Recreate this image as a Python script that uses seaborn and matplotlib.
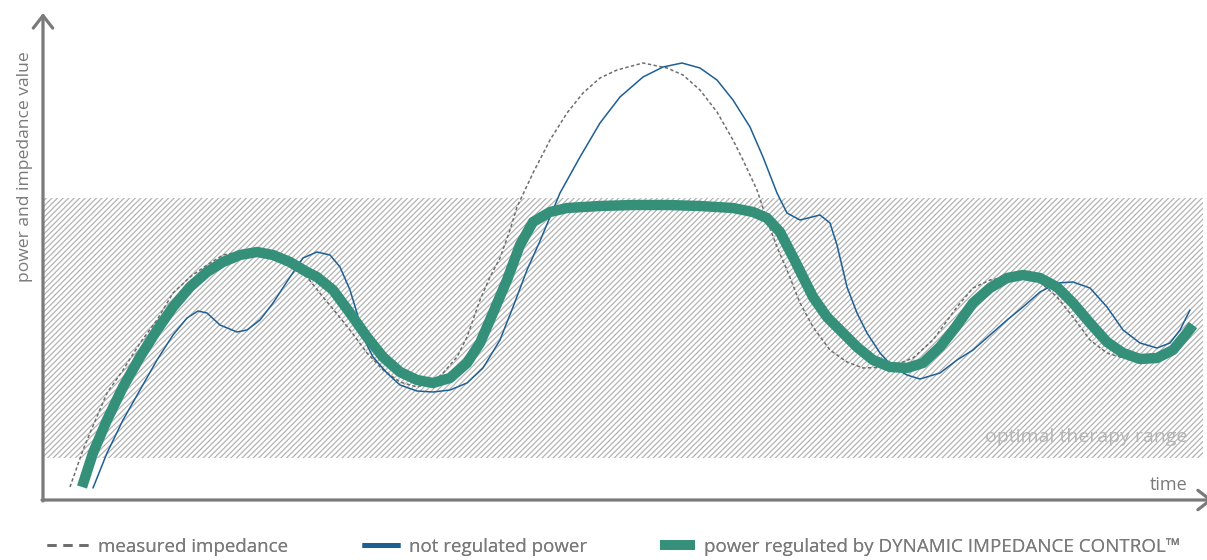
import matplotlib
matplotlib.use("Agg")
import matplotlib.pyplot as plt
from matplotlib.lines import Line2D
from matplotlib.patches import Rectangle
import pandas as pd
import seaborn as sns

# values (time, value)
imp_t = [70, 77, 83, 90, 107, 123, 140, 157, 173, 190, 207, 223, 240, 257, 273, 290, 307, 323,
         333, 350, 367, 383, 400, 417, 433, 443, 457, 467, 480, 490, 500, 510, 517, 533, 550,
         567, 583, 600, 617, 643, 667, 683, 700, 717, 733, 743, 757, 767, 777, 787, 800, 813,
         830, 847, 863, 890, 913, 933, 957, 973, 990, 1007, 1023, 1040, 1057, 1073, 1090,
         1107, 1123, 1147, 1167, 1180, 1185]
imp_v = [13, 33, 50, 67, 107, 130, 157, 180, 207, 223, 235, 245, 248, 248, 243, 233, 223, 203,
         191, 170, 147, 130, 118, 113, 118, 127, 143, 163, 200, 223, 242, 270, 293, 327, 360,
         387, 407, 422, 430, 437, 432, 425, 410, 388, 360, 340, 310, 280, 253, 230, 197, 173,
         150, 138, 132, 133, 142, 160, 193, 212, 220, 223, 224, 218, 203, 183, 160,
         147, 142, 140, 147, 163, 170]

raw_t = [93, 107, 123, 140, 157, 173, 187, 198, 207, 220, 237, 247, 260, 273, 290, 303, 317, 330,
         340, 350, 357, 363, 373, 387, 400, 417, 433, 450, 467, 483, 500, 513, 527, 540, 550,
         560, 580, 600, 620, 643, 663, 682, 700, 717, 733, 750, 763, 777, 787, 800, 820, 830,
         837, 847, 857, 867, 880, 893, 907, 920, 940, 957, 973, 990, 1007, 1023, 1040, 1057,
         1073, 1090, 1107, 1123, 1140, 1157, 1170, 1180, 1190]
raw_v = [12, 47, 80, 110, 140, 165, 182, 189, 187, 175, 168, 170, 180, 197, 223, 242, 248, 245,
         233, 210, 187, 163, 143, 127, 115, 109, 108, 110, 117, 132, 160, 193, 230, 259, 283,
         307, 343, 377, 403, 423, 433, 437, 432, 420, 400, 373, 343, 307, 287, 280, 285, 277,
         255, 213, 187, 167, 147, 133, 125, 121, 127, 140, 150, 165, 180, 193, 208, 217,
         218, 212, 193, 170, 157, 152, 157, 170, 190]

reg_t = [82, 93, 107, 123, 140, 157, 173, 190, 207, 223, 240, 257, 273, 290, 307, 317, 333, 350,
         367, 383, 400, 417, 433, 450, 467, 480, 493, 507, 520, 533, 550, 567, 600, 633, 667,
         700, 733, 753, 767, 780, 793, 803, 813, 827, 840, 857, 873, 890, 907, 923, 940, 955,
         973, 990, 1007, 1023, 1040, 1057, 1073, 1090, 1107, 1123, 1140, 1157, 1173, 1187, 1193]
reg_v = [13, 47, 80, 113, 143, 170, 193, 213, 228, 238, 245, 248, 245, 238, 228, 223, 210, 187,
         163, 143, 128, 120, 117, 122, 137, 157, 187, 220, 255, 278, 288, 292, 294, 295, 295,
         294, 292, 288, 282, 268, 243, 223, 203, 183, 170, 153, 140, 133, 132, 137, 153, 172,
         197, 212, 222, 225, 222, 213, 197, 177, 158, 147, 141, 142, 150, 167, 175]

range_t = (43, 1203)
range_v = (42, 302)
t_lim = (43, 1207)
v_lim = (0, 500)

labels = ["measured impedance", "not regulated power",
          "power regulated by DYNAMIC IMPEDANCE CONTROL\u2122"]

c_axis = "#7a7a7a"
c_imp = "#6e6e6e"
c_raw = "#1d5f95"
c_reg = "#35907a"
c_hatch = "#b3b3b3"

sns.set_style("white")
plt.rcParams["font.family"] = ["Open Sans", "DejaVu Sans"]
plt.rcParams["hatch.linewidth"] = 0.9

fig = plt.figure(figsize=(12.07, 5.6), dpi=100)
ax = fig.add_axes([43 / 1207, 60 / 560, 1164 / 1207, 500 / 560])
ax.set_xlim(*t_lim)
ax.set_ylim(*v_lim)
ax.axis("off")

# optimal therapy range
ax.add_patch(Rectangle((range_t[0], range_v[0]), range_t[1] - range_t[0],
                       range_v[1] - range_v[0], facecolor="none", edgecolor=c_hatch,
                       lw=0, hatch="//////", zorder=0))
ax.text(1187, 63, "optimal therapy range", ha="right", va="center",
        fontsize=14, color="#b5b5b5", zorder=1)

df_imp = pd.DataFrame({"t": imp_t, "v": imp_v})
df_raw = pd.DataFrame({"t": raw_t, "v": raw_v})
df_reg = pd.DataFrame({"t": reg_t, "v": reg_v})

sns.lineplot(data=df_imp, x="t", y="v", ax=ax, color=c_imp, lw=1.1,
             linestyle=(0, (2.2, 1.6)), estimator=None, sort=False, zorder=2)
sns.lineplot(data=df_raw, x="t", y="v", ax=ax, color=c_raw, lw=1.1,
             estimator=None, sort=False, zorder=3)
sns.lineplot(data=df_reg, x="t", y="v", ax=ax, color=c_reg, lw=7.5,
             estimator=None, sort=False, zorder=4)
for ln in ax.lines:
    ln.set_solid_joinstyle("round")
    ln.set_dash_joinstyle("round")
ax.lines[-1].set_solid_capstyle("butt")

# axes with open arrow heads
arrow = dict(arrowstyle="->,head_length=0.45,head_width=0.35", mutation_scale=20,
             color=c_axis, lw=2.3, shrinkA=0, shrinkB=0)
ax.annotate("", xy=(43, 487), xytext=(43, -1), annotation_clip=False, arrowprops=arrow)
ax.annotate("", xy=(1213, 0), xytext=(42, 0), annotation_clip=False, arrowprops=arrow)
ax.text(1187, 15, "time", ha="right", va="center", fontsize=13, color=c_axis)
fig.text(25 / 1207, 1 - 167 / 560, "power and impedance value", rotation=90,
         ha="center", va="center", fontsize=12.6, color=c_axis)

# legend below the chart
handles = [
    Line2D([], [], color=c_imp, lw=2, linestyle=(0, (3.25, 2.5))),
    Line2D([], [], color=c_raw, lw=3.5, solid_capstyle="butt"),
    Line2D([], [], color=c_reg, lw=7, solid_capstyle="butt"),
]
starts = [47, 362, 660]
hlens = [2.2, 2.0, 1.85]
for h, lab, x0, hl in zip(handles, labels, starts, hlens):
    leg = fig.legend(handles=[h], labels=[lab], loc="center left",
                     bbox_to_anchor=(x0 / 1207, 1 - 547 / 560), frameon=False,
                     fontsize=13.5, handlelength=hl, handletextpad=0.5,
                     borderaxespad=0, borderpad=0, labelcolor=c_axis)
    fig.add_artist(leg)

fig.savefig("out.png", dpi=100)
